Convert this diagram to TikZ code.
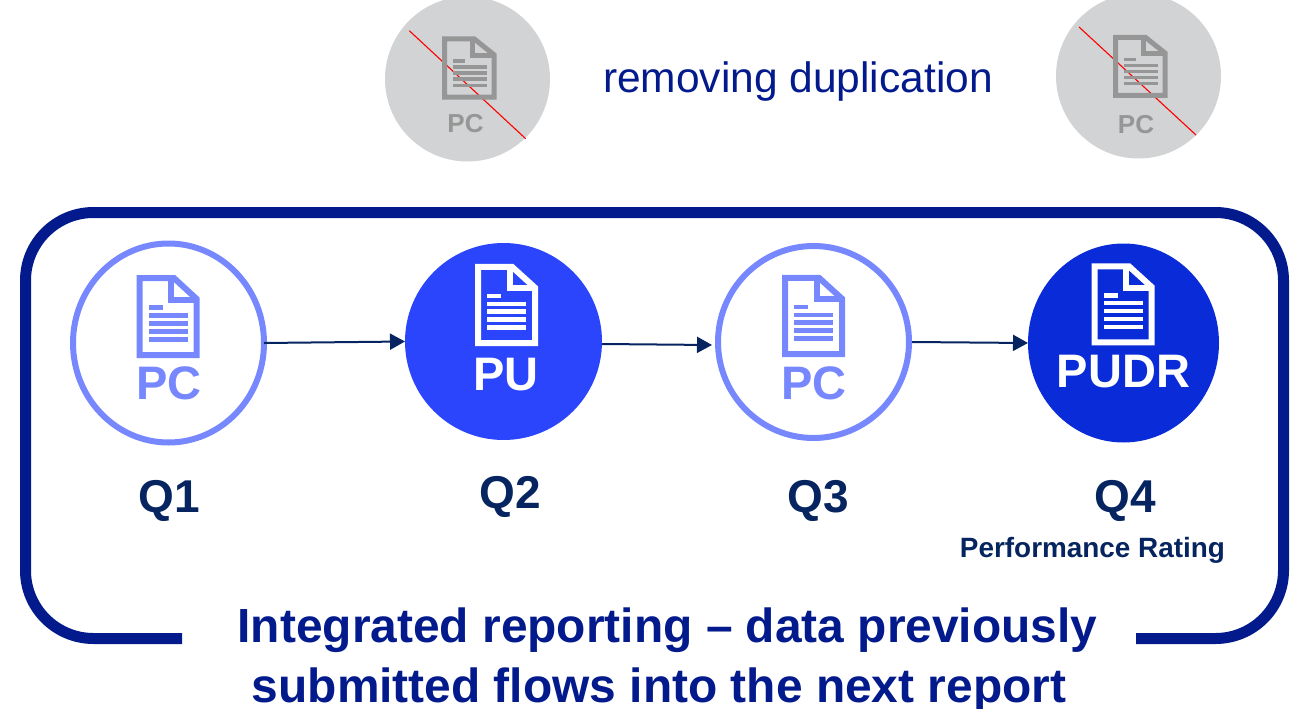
\documentclass[tikz,border=0pt]{standalone}
\usepackage{fontspec}
\setmainfont{Liberation Sans}
\usetikzlibrary{arrows.meta,shapes.geometric}
\definecolor{framec}{HTML}{021A8C}
\definecolor{lightc}{HTML}{7788FF}
\definecolor{puc}{HTML}{2A45FB}
\definecolor{pudrc}{HTML}{0A2BD8}
\definecolor{navyc}{HTML}{06245F}
\definecolor{grayc}{HTML}{D1D3D4}
\definecolor{icong}{HTML}{969696}
\tikzset{
  x=1pt,y=-1pt,
  ghostdisc/.style={circle,fill=grayc,minimum size=165pt,inner sep=0pt,outer sep=0pt},
  ringdisc/.style={ellipse,draw=lightc,line width=6pt,fill=white,inner sep=0pt,outer sep=0pt},
  filldisc/.style={ellipse,inner sep=0pt,outer sep=0pt},
  flow/.style={navyc,line width=2pt,-{Triangle[length=15pt,width=16pt]}},
  qlabel/.style={navyc,font=\bfseries\fontsize{46}{50}\selectfont,inner sep=0pt},
  iconlabel/.style={font=\bfseries\fontsize{47}{50}\selectfont,inner sep=0pt},
  bigline/.style={framec,font=\bfseries\fontsize{47.9}{50}\selectfont,inner sep=0pt},
}
% #1 left, #2 top, #3 width, #4 height, #5 colour, #6 border width
\newcommand{\docicon}[6]{%
\begin{scope}[shift={(#1,#2)},xscale=#3/63,yscale=#4/83]
  \draw[#5,line width=#6,miter limit=10]
    (3,3) -- (37.2,3) -- (60,24) -- (60,80) -- (3,80) -- cycle;
  \draw[#5,line width=#6,miter limit=10] (34.7,3) -- (34.7,24.7) -- (60,24.7);
  \fill[#5] (12.3,30) rectangle (26.3,34.7);
  \foreach \yy in {38,46,54,62}{\fill[#5] (12.3,\yy) rectangle (51.3,\yy+4.7);}
\end{scope}}
\begin{document}
\begin{tikzpicture}
\useasboundingbox (0,0) rectangle (1294,709);
% top ghost discs
\begin{scope}
\clip (0,0) rectangle (1294,709);
\node[ghostdisc] (g1) at (467.5,79) {};
\node[ghostdisc] (g2) at (1138.5,76) {};
\end{scope}
\coordinate (r1a) at (409.3,30.7); \coordinate (r1b) at (525.7,138.7);
\coordinate (r2a) at (1079,27); \coordinate (r2b) at (1196,135);
\draw[red,line width=1.1pt] (r1a) -- (r1b);
\draw[red,line width=1.1pt] (r2a) -- (r2b);
\docicon{442}{36.7}{54.7}{62.7}{icong}{5pt}
\docicon{1113}{35}{54.7}{62.7}{icong}{5pt}
\node[icong,inner sep=0pt,font=\bfseries\fontsize{26}{30}\selectfont] (pc1) at (465.5,123.5) {PC};
\node[icong,inner sep=0pt,font=\bfseries\fontsize{26}{30}\selectfont] (pc2) at (1136,124.5) {PC};
\node[framec,inner sep=0pt,font=\fontsize{42.5}{46}\selectfont] (rem) at (798,82) {removing duplication};
% frame
\draw[framec,line width=11pt,line join=round]
  (182,638.5) -- (93.5,638.5) arc[start angle=90,end angle=180,radius=68]
  -- (25.5,280.5) arc[start angle=180,end angle=270,radius=68]
  -- (1215.5,212.5) arc[start angle=-90,end angle=0,radius=68]
  -- (1283.5,570.5) arc[start angle=0,end angle=90,radius=68] -- (1136,638.5);
% discs
\node[ringdisc,minimum width=191pt,minimum height=199pt] (q1) at (168.5,343) {};
\node[filldisc,fill=puc,minimum width=197pt,minimum height=197pt] (q2) at (503.5,341.5) {};
\node[ringdisc,minimum width=191pt,minimum height=192pt] (q3) at (813.5,342) {};
\node[filldisc,fill=pudrc,minimum width=191pt,minimum height=199pt] (q4) at (1123.5,343) {};
\docicon{136.7}{275}{63}{83}{lightc}{6pt}
\docicon{475}{264}{63}{82}{white}{6pt}
\docicon{782}{275}{63}{82}{lightc}{6pt}
\docicon{1091.7}{263.3}{63}{82}{white}{6pt}
\node[iconlabel,lightc] (t1) at (169,383) {PC};
\node[iconlabel,white] (t2) at (506,375) {PU};
\node[iconlabel,lightc] (t3) at (814,383) {PC};
\node[iconlabel,white] (t4) at (1123.5,372) {PUDR};
% connectors
\draw[flow] (q1.east) -- (q2.west);
\draw[flow] ([yshift=-2.5pt]q2.east) -- ([xshift=-6pt,yshift=-3pt]q3.west);
\draw[flow] ([xshift=3pt]q3.east) -- (q4.west);
% labels
\node[qlabel] (l1) at (169,501) {Q1};
\node[qlabel] (l2) at (510,497) {Q2};
\node[qlabel] (l3) at (818,501) {Q3};
\node[qlabel] (l4) at (1125,501) {Q4};
\node[navyc,inner sep=0pt,font=\bfseries\fontsize{27.9}{31}\selectfont] (pr) at (1092.5,550) {Performance Rating};
\node[bigline] (b1) at (667.5,630) {Integrated reporting – data previously};
\node[bigline] (b2) at (659,690) {submitted flows into the next report};
\end{tikzpicture}
\end{document}
